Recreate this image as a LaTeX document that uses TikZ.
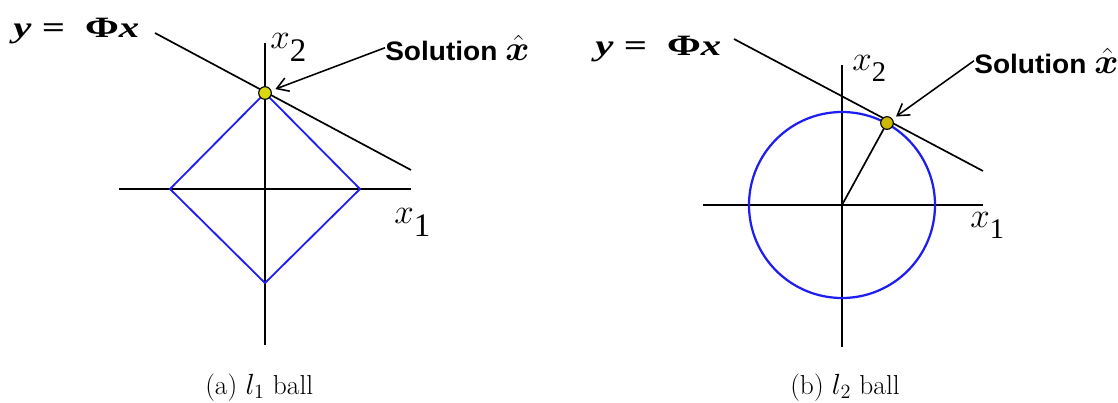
\documentclass[tikz,border=0pt]{standalone}
\usepackage{fontspec}
\usepackage{bm}
\usepackage{graphicx}
\newfontfamily\timesfont{Liberation Serif}
\newfontfamily\arialfont{Liberation Sans}
\usepackage{xcolor}
\definecolor{ballblue}{HTML}{1E1EF0}
\definecolor{solyellow}{HTML}{D8D810}
\definecolor{solochre}{HTML}{CDB800}
\usepackage{tikz}
\usetikzlibrary{arrows.meta}
\newcommand{\axislabel}[2]{$x$\raisebox{-0.32em}{\timesfont\scalebox{0.78}{#2}}}
\newcommand{\lineeq}{\scalebox{1.38}[1]{\timesfont\bfseries\itshape y =\ \ {\upshape Φ}x}}
\newcommand{\soltext}{\scalebox{1.05}[1]{\arialfont\bfseries Solution {\fontsize{23}{25}\selectfont$\hat{\bm{x}}$}}}

\begin{document}
\begin{tikzpicture}[x=0.025cm, y=-0.025cm,
    axis/.style={line width=2.1pt},
    thinaxis/.style={line width=1.6pt},
    tangent/.style={line width=1.2pt},
    ballline/.style={ballblue, line width=1.3pt},
    soldot/.style={circle, draw=black, line width=0.8pt, inner sep=0pt, minimum size=9pt},
    pointer/.style={-{Straight Barb[length=8pt,width=10pt]}, line width=1.1pt, shorten >=3pt},
    eqlabel/.style={anchor=base west, inner sep=0pt, font=\fontsize{21}{24}\selectfont},
    sollabel/.style={anchor=base west, inner sep=0pt, font=\fontsize{19}{22}\selectfont},
    caption/.style={anchor=base west, inner sep=0pt, font=\fontsize{19.5}{22}\selectfont}]
  \useasboundingbox (0,0) rectangle (1118,402);

  % (a) l1 ball
  \draw[tangent] (155,33) -- (411,170);
  \draw[axis] (119,189) -- (411,189);
  \draw[axis] (265,43) -- (265,345);
  \draw[ballline] (265,93) -- (360,189) -- (265,283) -- (170,189) -- cycle;
  \node[soldot, fill=solyellow] (dotA) at (265,93) {};
  \node[eqlabel] (eqA) at (13,37) {\lineeq};
  \node[anchor=base west, inner sep=0pt, font=\fontsize{30}{34}\selectfont] (xtwoA) at (270,48) {\axislabel{x}{2}};
  \node[anchor=base west, inner sep=0pt, font=\fontsize{30}{34}\selectfont] (xoneA) at (394,223) {\axislabel{x}{1}};
  \node[sollabel] (solA) at (385,60) {\soltext};
  \draw[pointer] (solA.west) -- (dotA);
  \node[caption] (capA) at (205,394) {(a) $l_1$ ball};

  % (b) l2 ball
  \draw[tangent] (734,39) -- (983,171);
  \draw[thinaxis] (703,205) -- (983,205);
  \draw[thinaxis] (842,65) -- (842,347);
  \draw[ballline, line width=1.6pt] (842,205) circle[radius=93];
  \coordinate (origB) at (842,205);
  \node[soldot, fill=solochre] (dotB) at (887,123) {};
  \draw[line width=1.2pt] (origB) -- (dotB);
  \node[eqlabel] (eqB) at (595,55) {\lineeq};
  \node[anchor=base west, inner sep=0pt, font=\fontsize{26}{30}\selectfont] (xtwoB) at (852,70) {\axislabel{x}{2}};
  \node[anchor=base west, inner sep=0pt, font=\fontsize{26}{30}\selectfont] (xoneB) at (970,227) {\axislabel{x}{1}};
  \node[sollabel] (solB) at (974,73) {\soltext};
  \draw[pointer] (solB.west) -- (dotB);
  \node[caption] (capB) at (790,394) {(b) $l_2$ ball};
\end{tikzpicture}
\end{document}
